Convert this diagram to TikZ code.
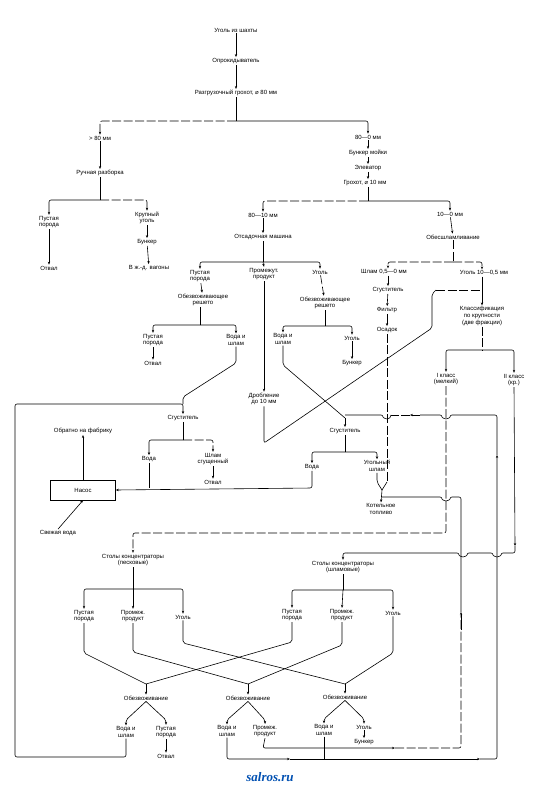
\documentclass[tikz,border=0pt]{standalone}
\usepackage{fontspec}
\setmainfont{Liberation Sans}
\newfontfamily\djv{DejaVu Sans}
\usetikzlibrary{arrows.meta}
\begin{document}
\begin{tikzpicture}[x=1pt,y=-1pt,
  every node/.style={font=\fontsize{6}{6.6}\selectfont, inner sep=1pt, align=center},
  ln/.style={line width=0.6pt, rounded corners=2pt},
  arr/.style={ln, -{Stealth[length=3pt,width=2.4pt]}},
  dsh/.style={dash pattern=on 9pt off 2.5pt},
  boxnode/.style={draw, line width=0.6pt, minimum width=65pt, minimum height=20pt}]
\useasboundingbox (0,0) rectangle (533,799);
\fill[white] (0,0) rectangle (533,799);
% ---------- nodes ----------
\node (n1) at (236,30) {Уголь из шахты};
\node (n2) at (236,61) {Опрокидыватель};
\node (n3) at (236,93) {Разгрузочный грохот, {\djv ⌀} 80 мм};
\coordinate (j1) at (236,121);
\node (n4) at (100,138) {> 80 мм};
\node (n5) at (368,137) {80—0 мм};
\node (n6) at (368,153) {Бункер мойки};
\node (n7) at (368,168) {Элеватор};
\node (n8) at (365,183) {Грохот, {\djv ⌀} 10 мм};
\coordinate (j3) at (368,201);
\node (n9) at (100,173) {Ручная разборка};
\coordinate (j2) at (100,200);
\node (n10) at (49,222) {Пустая\\порода};
\node (n11) at (147,218) {Крупный\\уголь};
\node (n12) at (49,268) {Отвал};
\node (n13) at (147,242) {Бункер};
\node (n14) at (149,268) {В ж.-д. вагоны};
\node (n15) at (263,215) {80—10 мм};
\node (n16) at (450,214) {10—0 мм};
\node (n17) at (263,237) {Отсадочная машина};
\node (n18) at (453,237) {Обесшламливание};
\coordinate (j4) at (263,262);
\node (n19) at (200,276) {Пустая\\порода};
\node (n20) at (264,274) {Промежут.\\продукт};
\node (n21) at (320,272) {Уголь};
\node (n22) at (203,300) {Обезвоживающее\\решето};
\node (n23) at (325,303) {Обезвоживающее\\решето};
\coordinate (j5) at (200,325);
\coordinate (j6) at (325,326);
\node (n24) at (384,272) {Шлам 0,5—0 мм};
\node (n25) at (484,273) {Уголь 10—0,5 мм};
\coordinate (j7) at (453,262);
\node (n26) at (388,290) {Сгуститель};
\node (n27) at (387,310) {Фильтр};
\node (n28) at (387,330) {Осадок};
\node (n29) at (482,316) {Классификация\\по крупности\\(две фракции)};
\coordinate (j8) at (482,350);
\coordinate (j9) at (482,290);
\node (n30) at (153,340) {Пустая\\порода};
\node (n31) at (236,340) {Вода и\\шлам};
\node (n32) at (153,363) {Отвал};
\node (n33) at (283,339) {Вода и\\шлам};
\node (n34) at (352,338) {Уголь};
\node (n35) at (352,363) {Бункер};
\node (n36) at (264,399) {Дробление\\до 10 мм};
\node (n37) at (446,379) {I класс\\(мелкий)};
\node (n38) at (514,380) {II класс\\(кр.)};
\node (n39) at (183,418) {Сгуститель};
\node (n40) at (345,431) {Сгуститель};
\node (n41) at (83,431) {Обратно на фабрику};
\coordinate (j10) at (183,440);
\node (n42) at (149,459) {Вода};
\node (n43) at (213,459) {Шлам\\сгущенный};
\node (n44) at (213,482) {Отвал};
\node[boxnode] (n45) at (83,490) {Насос};
\node (n46) at (58,533) {Свежая вода};
\coordinate (j11) at (345,452);
\node (n47) at (312,467) {Вода};
\node (n48) at (377,466) {Угольный\\шлам};
\node (n49) at (381,509) {Котельное\\топливо};
\coordinate (jv) at (382,490);
\node (n50) at (133,560) {Столы концентраторы\\(песковые)};
\node (n51) at (343,567) {Столы концентраторы\\(шламовые)};
\coordinate (j12) at (133,589);
\coordinate (j13) at (343,590);
\node (n52) at (84,616) {Пустая\\порода};
\node (n53) at (133,616) {Промеж.\\продукт};
\node (n54) at (183,617) {Уголь};
\node (n55) at (292,615) {Пустая\\порода};
\node (n56) at (342,615) {Промеж.\\продукт};
\node (n57) at (393,613) {Уголь};
\coordinate (d1) at (146,684);
\coordinate (d2) at (248,684);
\coordinate (d3) at (345,684);
\node (n58) at (146,698) {Обезвоживание};
\node (n59) at (248,698) {Обезвоживание};
\node (n60) at (345,697) {Обезвоживание};
\node (n61) at (126,732) {Вода и\\шлам};
\node (n62) at (166,732) {Пустая\\порода};
\node (n63) at (166,756) {Отвал};
\node (n64) at (227,731) {Вода и\\шлам};
\node (n65) at (265,731) {Промеж.\\продукт};
\node (n66) at (324,730) {Вода и\\шлам};
\node (n67) at (364,727) {Уголь};
\node (n68) at (364,742) {Бункер};
\node[font=\fontsize{13}{14}\selectfont\bfseries\itshape, text=blue!55!cyan!70!black] (wm) at (270,777) {\fontspec{Liberation Serif}salros.ru};
% ---------- connectors ----------
\draw[arr] (n1) -- (n2);
\draw[arr] (n2) -- (n3);
\draw[ln] (n3.south) -- (j1);
\draw[arr,dsh] (j1) -| (n4.north);
\draw[arr] (j1) -| (n5.north);
\draw[arr] (n5) -- (n6);
\draw[arr] (n6) -- (n7);
\draw[arr] (n7) -- (n8.north -| j3);
\draw[arr] (n4) -- (n9);
\draw[ln] (n9.south -| j2) -- (j2);
\draw[arr] (j2) -| (n10.north);
\draw[arr,dsh] (j2) -| (n11.north);
\draw[arr] (n10) -- (n12);
\draw[arr] (n11) -- (n13);
\draw[arr] (n13) -- (n14);
\draw[ln] (n8.south -| j3) -- (j3);
\draw[arr,dsh] (j3) -| (n15.north);
\draw[arr] (j3) -| (n16.north);
\draw[arr] (n15) -- (n17);
\draw[arr] (n16) -- (n18);
\draw[ln] (n17.south) -- (j4);
\draw[arr] (j4) -| (n19.north);
\draw[arr] (j4) -- (n20.north);
\draw[arr] (j4) -| (n21.north);
\draw[arr] (n19) -- (n22);
\draw[arr,dsh] (n21) -- (n23);
\draw[ln] (n22.south -| j5) -- (j5);
\draw[arr] (j5) -| (n30.north);
\draw[arr] (j5) -| (n31.north);
\draw[arr] (n30) -- (n32);
\draw[ln] (n23.south) -- (j6);
\draw[arr] (j6) -| (n33.north);
\draw[arr] (j6) -| (n34.north);
\draw[arr] (n34) -- (n35);
\draw[ln,dsh] (n18.south -| j7) -- (j7);
\draw[arr,dsh] (j7) -| (n24.north -| n26);
\draw[arr,dsh] (j7) -| (n25.north -| j9);
\draw[arr] (n24.south -| n26) -- (n26);
\draw[arr] (n26) -- (n27);
\draw[arr] (n27) -- (n28);
\draw[arr] (n25.south -| j9) -- (n29.north);
\draw[ln,dsh] (n29.south) -- (j8);
\draw[arr] (j8) -| (n37.north);
\draw[arr] (j8) -| (n38.north);
% crushing loop
\draw[arr] (n20) -- (n36);
\draw[ln] (n36.south) -- (264,443) -- (432,328) -- (432,294) -- (436,290);
\draw[ln,dsh] (436,290) -- (j9);
% thickeners
\draw[ln] (n31.south) -- (236,363) -- (183,397) -- (183,404);
\draw[arr] (n61.south) -- (126,757) -- (15,757) -- (15,404) -- (183,404) -- (n39.north);
\draw[ln] (n39.south) -- (j10);
\draw[arr] (j10) -| (n42.north);
\draw[arr,dsh] (j10) -| (n43.north);
\draw[arr] (n43) -- (n44);
\draw[ln] (n33.south) -- (283,365) -- (345,418);
\draw[arr] (345,418) -- (n40.north);
\draw[ln] (n40.south) -- (j11);
\draw[arr] (j11) -| (n47.north);
\draw[arr] (j11) -| (n48.north);
\draw[ln] (n42.south) -- (149,488);
\draw[arr] (n47.south) -- (312,488) -- (n45.east);
\draw[arr] (n45.north) -- (n41.south);
\draw[arr] (n46.north) -- (n45.south);
% to boiler fuel
\draw[ln] (n48.south) -- (377,482) -- (jv);
\draw[ln,dsh] (n28.south) -- (387,482);
\draw[ln] (387,482) -- (jv);
\draw[arr] (jv) -- (n49.north);
% classes to tables
\draw[ln,dsh] (n37.south) -- (446,533) -- (300,533);
\draw[arr,dsh] (300,533) -- (133,533) -- (n50.north);
\draw[arr] (n38.south) -- (515,546);
\draw[ln] (515,546) -- (515,553) -- (501,553) arc[start angle=0,end angle=180,radius=4] -- (467,553) arc[start angle=0,end angle=180,radius=4] -- (347,553);
\draw[arr] (347,553) -- (343,553) -- (n51.north);
\draw[ln] (n50.south) -- (j12);
\draw[arr] (j12) -| (n52.north);
\draw[arr] (j12) -- (n53.north);
\draw[arr] (j12) -| (n54.north);
\draw[ln] (n51.south) -- (j13);
\draw[arr] (j13) -| (n55.north);
\draw[arr] (j13) -- (n56.north);
\draw[arr] (j13) -| (n57.north);
% table products to dewatering
\draw[ln] (n52.south) -- (84,653) -- (d1);
\draw[ln] (n55.south) -- (292,642) -- (d1);
\draw[arr] (d1) -- (n58.north);
\draw[ln] (n53.south) -- (133,652) -- (d2);
\draw[ln] (n56.south) -- (342,645) -- (d2);
\draw[arr] (d2) -- (n59.north);
\draw[ln] (n54.south) -- (183,643) -- (d3);
\draw[ln] (n57.south) -- (393,653) -- (d3);
\draw[arr] (d3) -- (n60.north);
% dewatering products
\draw[arr] (n58.south) -- (126,720) -- (n61.north);
\draw[arr] (n58.south) -- (166,720) -- (n62.north);
\draw[arr] (n62) -- (n63);
\draw[arr] (n59.south) -- (227,720) -- (n64.north);
\draw[arr] (n59.south) -- (265,720) -- (n65.north);
\draw[arr] (n60.south) -- (324,719) -- (n66.north);
\draw[arr] (n60.south) -- (364,719) -- (n67.north);
\draw[arr] (n67) -- (n68);
% return lines
\draw[arr] (n64.south) -- (227,759) -- (290,759);
\draw[arr] (290,759) -- (480,759);
\draw[arr] (480,759) -- (497,759) -- (497,455);
\draw[ln] (497,455) -- (497,415) -- (450,415) arc[start angle=0,end angle=180,radius=4] -- (420,415);
\draw[arr,dsh] (420,415) -- (410,415);
\draw[ln,dsh] (410,415) -- (391,415);
\draw[ln] (391,415) arc[start angle=0,end angle=180,radius=4] -- (345,415);
\draw[ln] (n66.south) -- (324,759);
\draw[arr] (n65.south) -- (263,748) -- (395,748);
\draw[ln,dsh] (395,748) -- (461,748) -- (461,615);
\draw[arr] (461,630) -- (461,612);
\draw[ln] (461,612) -- (461,497) -- (450,497) arc[start angle=0,end angle=180,radius=4] -- (382,497);
\end{tikzpicture}
\end{document}
